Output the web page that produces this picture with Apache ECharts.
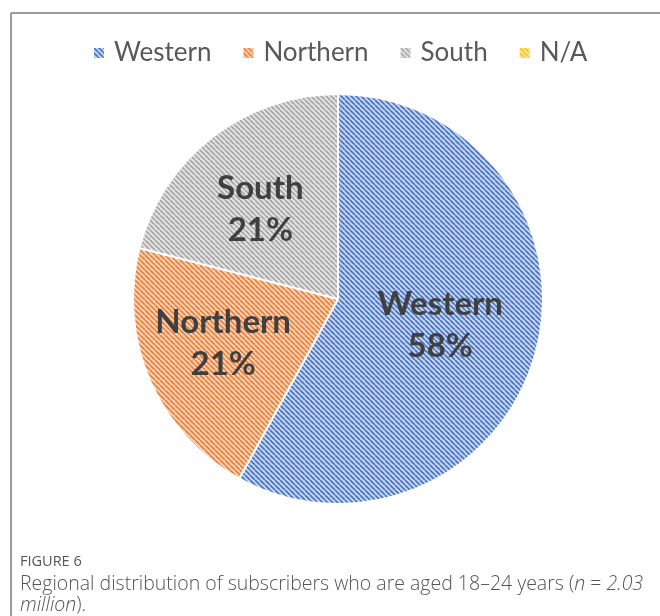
<!DOCTYPE html>
<html><head><meta charset="utf-8">
<script src="https://cdn.jsdelivr.net/npm/echarts@6/dist/echarts.min.js"></script>
<style>html,body{margin:0;padding:0;background:#fff}#c{width:660px;height:616px}</style>
</head><body><div id="c"></div>
<script>
const categories = ['Western', 'Northern', 'South', 'N/A'];
const values = [58, 21, 21, 0];
const percentLabels = ['58%', '21%', '21%', ''];
const lineColors = ['#4472C4', '#ED7D31', '#A5A5A5', '#FFC000'];
const bgColors = ['#c9d6f0', '#fad3bb', '#e4e4e4', '#ffe9a8'];

function hatch(bg, fg) {
  const s = 5;
  const cv = document.createElement('canvas');
  cv.width = s; cv.height = s;
  const g = cv.getContext('2d');
  g.fillStyle = bg; g.fillRect(0, 0, s, s);
  g.strokeStyle = fg; g.lineWidth = 1.6;
  g.beginPath();
  for (let k = -1; k <= 1; k++) {
    g.moveTo(k * s, 0); g.lineTo(k * s + s, s);
  }
  g.stroke();
  return { image: cv, repeat: 'repeat' };
}

const labelOffsets = [[0, 0], [-18, 2], [-13, -6], [0, 0]];
const data = categories.map((c, i) => ({
  name: c,
  value: values[i],
  itemStyle: { color: hatch(bgColors[i], lineColors[i]) },
  label: { show: values[i] > 0, offset: labelOffsets[i] }
}));

// caption pieces
const ctx = document.createElement('canvas').getContext('2d');
function w(t, f) { ctx.font = f; return ctx.measureText(t).width; }
const fN = '300 19.5px "Open Sans"', fI = 'italic 300 19.5px "Open Sans"';
const capColor = '#555555';
function txt(x, y, t, f) {
  return { type: 'text', style: { x: x, y: y, text: t, font: f, fill: capColor, verticalAlign: 'middle', align: 'left' } };
}
const p1 = 'Regional distribution of subscribers who are aged 18–24 years (';
const caption = [];
const y1 = 562, y2 = 584, y3 = 605;
let x = 20;
caption.push(txt(x, y2, p1, fN)); x += w(p1, fN);
caption.push(txt(x, y2, 'n', fI)); x += w('n', fI);
caption.push(txt(x, y2, ' = ', fN)); x += w(' = ', fN);
caption.push(txt(x, y2, '2.03', fI));
caption.push(txt(20, y3, 'million', fI));
caption.push(txt(20 + w('million', fI), y3, ').', fN));
caption.push(txt(20, y1, 'FIGURE 6', '14.5px "Open Sans"'));

const chart = echarts.init(document.getElementById('c'), null, { renderer: 'canvas' });
chart.setOption({
  animation: false,
  legend: {
    top: 35, left: 87,
    itemWidth: 12, itemHeight: 12, itemGap: 30,
    icon: 'rect',
    textStyle: { fontFamily: 'Lato', fontSize: 26, color: '#595959', padding: [0, 0, 0, 4] },
    data: categories
  },
  series: [{
    type: 'pie',
    center: [338, 299],
    radius: 205,
    startAngle: 90,
    clockwise: true,
    avoidLabelOverlap: false,
    itemStyle: { borderColor: '#ffffff', borderWidth: 2 },
    label: {
      position: 'inside',
      formatter: p => p.name + '\n' + percentLabels[p.dataIndex],
      fontFamily: 'Lato', fontWeight: 'bold', fontSize: 33, lineHeight: 42,
      color: '#404040'
    },
    labelLine: { show: false },
    emphasis: { disabled: true },
    data: data
  }],
  graphic: [
    { type: 'line', shape: { x1: 11, y1: 13, x2: 660, y2: 13 }, style: { stroke: '#9a9a9a', lineWidth: 2 } },
    { type: 'line', shape: { x1: 11, y1: 13, x2: 11, y2: 616 }, style: { stroke: '#9a9a9a', lineWidth: 2 } }
  ].concat(caption)
});
</script></body></html>
